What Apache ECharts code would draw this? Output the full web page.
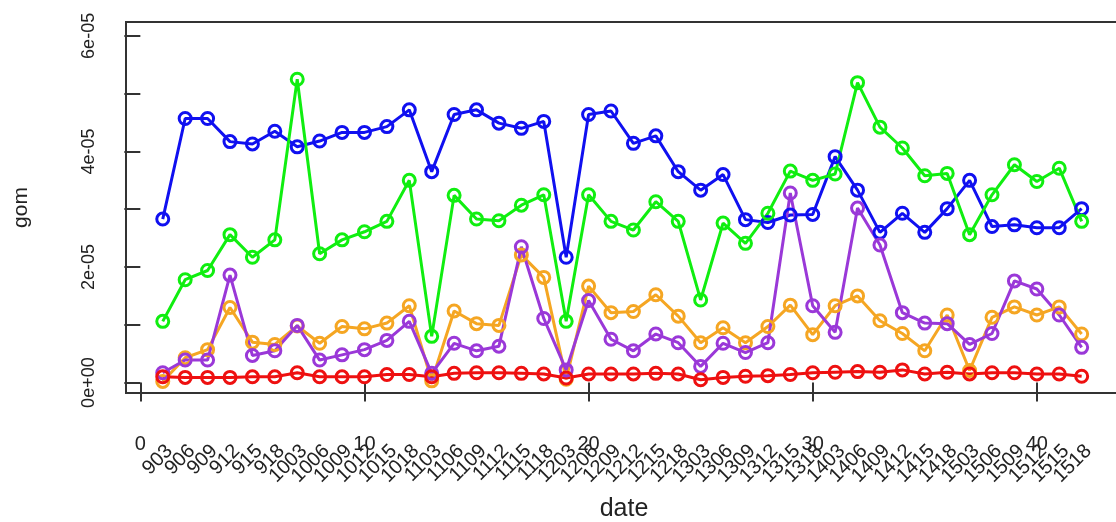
<!DOCTYPE html>
<html>
<head>
<meta charset="utf-8">
<title>gom by date</title>
<script src="https://cdn.jsdelivr.net/npm/echarts@6/dist/echarts.min.js"></script>
<style>
  html, body { margin: 0; padding: 0; background: #fff; }
  #chart { width: 1116px; height: 522px; }
</style>
</head>
<body>
<div id="chart"></div>
<script>
// Sampling dates (MMDD style codes), one per observation index 1..42
const dateLabels = [
  '903','906','909','912','915','918',
  '1003','1006','1009','1012','1015','1018',
  '1103','1106','1109','1112','1115','1118',
  '1203','1206','1209','1212','1215','1218',
  '1303','1306','1309','1312','1315','1318',
  '1403','1406','1409','1412','1415','1418',
  '1503','1506','1509','1512','1515','1518'
];

// gom values per series
const blueSeries = [
  2.83e-5, 4.57e-5, 4.57e-5, 4.17e-5, 4.13e-5, 4.35e-5, 4.08e-5, 4.18e-5, 4.33e-5, 4.33e-5,
  4.43e-5, 4.72e-5, 3.65e-5, 4.64e-5, 4.72e-5, 4.49e-5, 4.40e-5, 4.52e-5, 2.17e-5, 4.64e-5,
  4.70e-5, 4.14e-5, 4.27e-5, 3.65e-5, 3.33e-5, 3.60e-5, 2.82e-5, 2.77e-5, 2.90e-5, 2.91e-5,
  3.91e-5, 3.33e-5, 2.60e-5, 2.93e-5, 2.60e-5, 3.01e-5, 3.50e-5, 2.70e-5, 2.73e-5, 2.68e-5,
  2.68e-5, 3.01e-5
];
const greenSeries = [
  1.06e-5, 1.78e-5, 1.94e-5, 2.56e-5, 2.17e-5, 2.47e-5, 5.25e-5, 2.23e-5, 2.47e-5, 2.61e-5,
  2.79e-5, 3.50e-5, 0.80e-5, 3.24e-5, 2.83e-5, 2.80e-5, 3.07e-5, 3.25e-5, 1.06e-5, 3.25e-5,
  2.79e-5, 2.64e-5, 3.13e-5, 2.79e-5, 1.43e-5, 2.76e-5, 2.41e-5, 2.93e-5, 3.66e-5, 3.50e-5,
  3.61e-5, 5.19e-5, 4.42e-5, 4.06e-5, 3.58e-5, 3.62e-5, 2.56e-5, 3.25e-5, 3.77e-5, 3.48e-5,
  3.71e-5, 2.79e-5
];
const orangeSeries = [
  0.02e-5, 0.43e-5, 0.57e-5, 1.30e-5, 0.70e-5, 0.66e-5, 0.98e-5, 0.68e-5, 0.97e-5, 0.93e-5,
  1.03e-5, 1.33e-5, 0.03e-5, 1.24e-5, 1.02e-5, 0.99e-5, 2.21e-5, 1.82e-5, 0.06e-5, 1.67e-5,
  1.21e-5, 1.23e-5, 1.52e-5, 1.15e-5, 0.69e-5, 0.95e-5, 0.69e-5, 0.97e-5, 1.34e-5, 0.83e-5,
  1.33e-5, 1.50e-5, 1.07e-5, 0.85e-5, 0.55e-5, 1.17e-5, 0.21e-5, 1.13e-5, 1.31e-5, 1.17e-5,
  1.31e-5, 0.84e-5
];
const purpleSeries = [
  0.17e-5, 0.39e-5, 0.39e-5, 1.86e-5, 0.47e-5, 0.55e-5, 0.99e-5, 0.39e-5, 0.48e-5, 0.57e-5,
  0.73e-5, 1.06e-5, 0.16e-5, 0.68e-5, 0.55e-5, 0.63e-5, 2.35e-5, 1.11e-5, 0.22e-5, 1.42e-5,
  0.75e-5, 0.55e-5, 0.84e-5, 0.69e-5, 0.28e-5, 0.68e-5, 0.52e-5, 0.69e-5, 3.28e-5, 1.33e-5,
  0.87e-5, 3.02e-5, 2.38e-5, 1.21e-5, 1.03e-5, 1.02e-5, 0.66e-5, 0.85e-5, 1.76e-5, 1.62e-5,
  1.17e-5, 0.61e-5
];
const redSeries = [
  0.10e-5, 0.09e-5, 0.09e-5, 0.09e-5, 0.10e-5, 0.10e-5, 0.17e-5, 0.10e-5, 0.10e-5, 0.10e-5,
  0.14e-5, 0.14e-5, 0.10e-5, 0.16e-5, 0.17e-5, 0.17e-5, 0.16e-5, 0.15e-5, 0.08e-5, 0.15e-5,
  0.15e-5, 0.15e-5, 0.16e-5, 0.15e-5, 0.05e-5, 0.09e-5, 0.11e-5, 0.12e-5, 0.14e-5, 0.17e-5,
  0.18e-5, 0.19e-5, 0.18e-5, 0.22e-5, 0.15e-5, 0.18e-5, 0.15e-5, 0.17e-5, 0.17e-5, 0.15e-5,
  0.15e-5, 0.11e-5
];

// Axis ticks and labels
const xTickValues = [0, 10, 20, 30, 40];
const yTickValues = [0, 1e-5, 2e-5, 3e-5, 4e-5, 5e-5, 6e-5];
const yLabelValues = [0, 2e-5, 4e-5, 6e-5];
const yLabelTexts = ['0e+00', '2e-05', '4e-05', '6e-05'];

const FONT = "'Liberation Sans', Arial, Helvetica, sans-serif";
const INK = '#222';
const X_MIN = -0.64, X_MAX = 43.8;
// Rotated date labels sit a little to the right of their index position
const LABEL_NUDGE = 0.3;

const seriesDefs = [
  { name: 'blue',   color: '#1010f0', data: blueSeries },
  { name: 'green',  color: '#10ee10', data: greenSeries },
  { name: 'orange', color: '#f5a623', data: orangeSeries },
  { name: 'purple', color: '#9a38d8', data: purpleSeries },
  { name: 'red',    color: '#ee1010', data: redSeries }
];

// The dense, rotated date labels are spread over three interleaved label-only
// axes so that the library never drops any of them as "overlapping".
const LABEL_LANES = 3;
const dateAxes = [];
for (let lane = 0; lane < LABEL_LANES; lane++) {
  const values = [];
  dateLabels.forEach((_, i) => { if (i % LABEL_LANES === lane) values.push(i + 1); });
  dateAxes.push({
    type: 'value', min: X_MIN - LABEL_NUDGE, max: X_MAX - LABEL_NUDGE, position: 'bottom',
    axisLine: { show: false },
    axisTick: { show: false },
    axisLabel: {
      show: true, customValues: values, rotate: 45, margin: 55,
      hideOverlap: false,
      fontSize: 20, color: INK, fontFamily: FONT,
      formatter: v => dateLabels[Math.round(v) - 1] || ''
    },
    splitLine: { show: false }
  });
}

const chart = echarts.init(document.getElementById('chart'), null, { renderer: 'canvas' });

chart.setOption({
  animation: false,
  backgroundColor: '#fff',
  textStyle: { fontFamily: FONT, color: INK },
  grid: {
    show: true,
    left: 126, top: 22, width: 996, height: 371,
    outerBoundsMode: 'none',
    borderColor: '#333', borderWidth: 2,
    backgroundColor: 'transparent',
    containLabel: false
  },
  xAxis: [
    {
      type: 'value', min: X_MIN, max: X_MAX, position: 'bottom',
      name: 'date', nameLocation: 'middle', nameGap: 104,
      nameTextStyle: { fontSize: 25, color: INK, fontFamily: FONT },
      axisLine: { show: false },
      axisTick: { show: true, inside: false, length: 19, customValues: xTickValues,
                  lineStyle: { color: '#333', width: 2 } },
      axisLabel: { show: true, customValues: xTickValues, margin: 41,
                   fontSize: 20, color: INK, fontFamily: FONT },
      splitLine: { show: false }
    }
  ].concat(dateAxes),
  yAxis: {
    type: 'value', min: -0.18e-5, max: 6.24e-5,
    name: 'gom', nameLocation: 'middle', nameGap: 94,
    nameTextStyle: { fontSize: 21, color: INK, fontFamily: FONT },
    axisLine: { show: false },
    axisTick: { show: true, inside: false, length: 16, customValues: yTickValues,
                lineStyle: { color: '#333', width: 2 } },
    axisLabel: {
      show: true, customValues: yLabelValues, rotate: 90, margin: 28,
      fontSize: 18, color: INK, fontFamily: FONT,
      formatter: v => {
        const k = yLabelValues.findIndex(t => Math.abs(t - v) < 1e-9);
        return k >= 0 ? yLabelTexts[k] : '';
      }
    },
    splitLine: { show: false }
  },
  series: seriesDefs.map(s => ({
    name: s.name,
    type: 'line',
    xAxisIndex: 0,
    data: s.data.map((v, i) => [i + 1, v]),
    symbol: 'circle',
    symbolSize: 12,
    showAllSymbol: true,
    lineStyle: { color: s.color, width: 3 },
    itemStyle: { color: 'transparent', borderColor: s.color, borderWidth: 3 },
    emphasis: { disabled: true },
    z: 2
  }))
});
</script>
</body>
</html>
